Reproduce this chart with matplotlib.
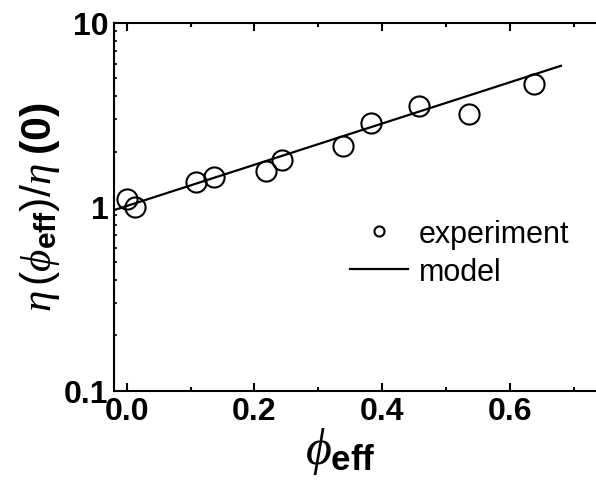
import numpy as np
import matplotlib
matplotlib.use('Agg')
import matplotlib.pyplot as plt
from matplotlib.ticker import FixedLocator, LogLocator, NullFormatter

plt.rcParams['mathtext.fontset'] = 'custom'
plt.rcParams['mathtext.rm'] = 'Liberation Sans'
plt.rcParams['mathtext.bf'] = 'Liberation Sans:bold'
plt.rcParams['mathtext.it'] = 'Liberation Serif:italic'
plt.rcParams['font.family'] = 'Liberation Sans'

# experiment points
phi_exp = [0.0, 0.013, 0.109, 0.137, 0.218, 0.243, 0.338, 0.382, 0.458, 0.536, 0.638]
eta_exp = [1.10, 1.00, 1.36, 1.46, 1.57, 1.80, 2.15, 2.86, 3.52, 3.20, 4.66]

# model line (straight on log scale) end points
phi_model = [-0.02, 0.68]
eta_model = [0.96, 5.85]

x_ticks = [0.0, 0.2, 0.4, 0.6]
x_tick_labels = ['0.0', '0.2', '0.4', '0.6']
y_ticks = [0.1, 1, 10]
y_tick_labels = ['0.1', '1', '10']

fig = plt.figure(figsize=(5.96, 4.89), dpi=100)
ax = fig.add_axes([114/596, 1-391.7/489, 491.6/596, 367.7/489])

ax.plot(phi_model, eta_model, color='black', lw=1.6, label='model', zorder=2)
ax.plot(phi_exp, eta_exp, 'o', ms=14.5, mfc='none', mec='black', mew=1.5,
        label='experiment', zorder=3)

ax.set_yscale('log')
ax.set_xlim(-0.02, 0.75)
ax.set_ylim(0.1, 10)

ax.xaxis.set_major_locator(FixedLocator(x_ticks))
ax.set_xticklabels(x_tick_labels)
ax.xaxis.set_minor_locator(FixedLocator([0.1, 0.3, 0.5, 0.7]))
ax.yaxis.set_major_locator(FixedLocator(y_ticks))
ax.set_yticklabels(y_tick_labels)
ax.yaxis.set_minor_locator(LogLocator(base=10, subs=np.arange(2, 10)))
ax.yaxis.set_minor_formatter(NullFormatter())

for s in ax.spines.values():
    s.set_linewidth(1.5)
ax.tick_params(which='both', direction='in', top=True, right=False, width=1.5)
ax.tick_params(which='major', length=6, labelsize=23, pad=4)
ax.tick_params(which='minor', length=3)
ax.tick_params(axis='y', which='major', length=0)
ax.tick_params(axis='y', which='minor', length=2.5, width=1.2)
for lab in ax.get_xticklabels() + ax.get_yticklabels():
    lab.set_fontweight('bold')

ax.set_xlabel(r'$\phi_{\mathbf{eff}}$', fontsize=36)
ax.xaxis.set_label_coords((340 - 114) / 491.6, -(452 - 391.7) / 367.7)
ax.xaxis.label.set_va('center')
ax.set_ylabel(r'$\eta\,(\phi_{\mathbf{eff}})/\eta\;\mathbf{(0)}$', fontsize=31)
ax.yaxis.set_label_coords(-(114 - 40) / 491.6, (391.7 - 207) / 367.7)
ax.yaxis.label.set_va('center')

handles, labels = ax.get_legend_handles_labels()
leg = ax.legend(handles[::-1], labels[::-1], loc='center left',
                bbox_to_anchor=(350/596, 1-254/489), bbox_transform=fig.transFigure,
                frameon=False, fontsize=22, markerscale=0.5, handlelength=1.9,
                handletextpad=0.35, labelspacing=0.25, borderpad=0, borderaxespad=0)

fig.savefig('out.png', dpi=100)
